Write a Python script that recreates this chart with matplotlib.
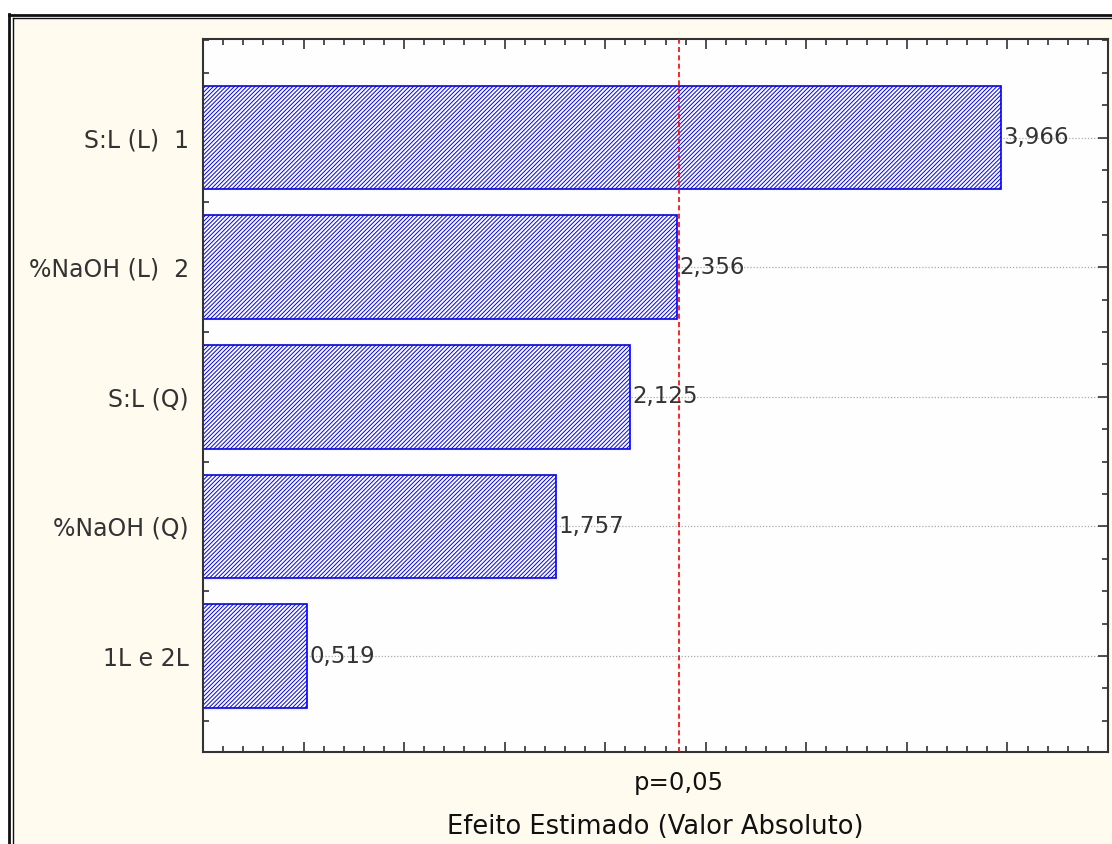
import matplotlib
matplotlib.use("Agg")
import matplotlib.pyplot as plt
from matplotlib.patches import Rectangle
from matplotlib.lines import Line2D
from matplotlib.ticker import MultipleLocator, NullFormatter

# Data (top to bottom in the chart)
categories = ["S:L (L)  1", "%NaOH (L)  2", "S:L (Q)", "%NaOH (Q)", "1L e 2L"]
effects = [3.966, 2.356, 2.125, 1.757, 0.519]
labels = ["3,966", "2,356", "2,125", "1,757", "0,519"]
p_value_line = 2.365
p_label = "p=0,05"
x_label = "Efeito Estimado (Valor Absoluto)"

plt.rcParams["font.family"] = ["DejaVu Sans"]
plt.rcParams["hatch.linewidth"] = 0.7

W, H = 1112, 844
fig = plt.figure(figsize=(W / 100, H / 100), dpi=100, facecolor="white")

cream = "#FFFBEF"
# cream panel inside frame
fig.patches.append(Rectangle((13 / W, 0), 1 - 13 / W, 1 - 18 / H,
                             transform=fig.transFigure, facecolor=cream,
                             edgecolor="none", zorder=-10))
# double border lines
def hline(y, x0, x1, lw, c="#111111"):
    fig.lines.append(Line2D([x0 / W, x1 / W], [1 - y / H, 1 - y / H],
                            transform=fig.transFigure, color=c, lw=lw, zorder=-5))
def vline(x, y0, y1, lw, c="#111111"):
    fig.lines.append(Line2D([x / W, x / W], [1 - y0 / H, 1 - y1 / H],
                            transform=fig.transFigure, color=c, lw=lw, zorder=-5))
hline(14.5, 8.5, W, 2.0)
hline(18.0, 12.5, W, 1.0)
vline(9.0, 14, H, 2.0)
vline(12.5, 18, H, 1.0)

ax = fig.add_axes([203 / W, 1 - 752 / H, (1108 - 203) / W, (752 - 39) / H])
ax.set_zorder(1)
ax.set_facecolor("#FEFEFE")

n = len(categories)
ypos = [n - 1 - i for i in range(n)]

for y in ypos:
    ax.axhline(y, color="#AAAAAA", lw=0.9, ls=(0, (1, 1.5)), zorder=1)

ax.barh(ypos, effects, height=0.8, color="#FEFEFE", edgecolor="#0000FF",
        hatch="////////", linewidth=1.2, zorder=2)

for y, v, t in zip(ypos, effects, labels):
    ax.text(v + 0.012, y, t, va="center", ha="left", fontsize=16.5,
            color="#333333", zorder=4)

ax.axvline(p_value_line, color="#FF0000", lw=1.2, ls=(0, (3, 2)), zorder=3)

ax.set_xlim(0, 4.5)
ax.set_ylim(-0.74, 4.76)
ax.set_yticks(ypos)
ax.set_yticklabels(categories, fontsize=17, color="#333333")
ax.yaxis.set_minor_locator(MultipleLocator(0.25))
ax.xaxis.set_major_locator(MultipleLocator(0.5))
ax.xaxis.set_minor_locator(MultipleLocator(0.1))
ax.xaxis.set_major_formatter(NullFormatter())
ax.tick_params(which="both", direction="in", top=True, right=True,
               color="#333333")
ax.tick_params(which="major", length=7, width=1.2)
ax.tick_params(which="minor", length=4, width=1.2)
ax.tick_params(axis="y", which="major", pad=10)
for s in ax.spines.values():
    s.set_color("#333333")
    s.set_linewidth(1.5)

ax.text(p_value_line, -0.74 - 0.24, p_label, ha="center", va="center",
        fontsize=17.5, color="#111111", transform=ax.transData, clip_on=False)
fig.text(655 / W, 1 - 827 / H, x_label, ha="center", va="center",
         fontsize=18.5, color="#111111")

fig.savefig("out.png", dpi=100, facecolor=fig.get_facecolor())
